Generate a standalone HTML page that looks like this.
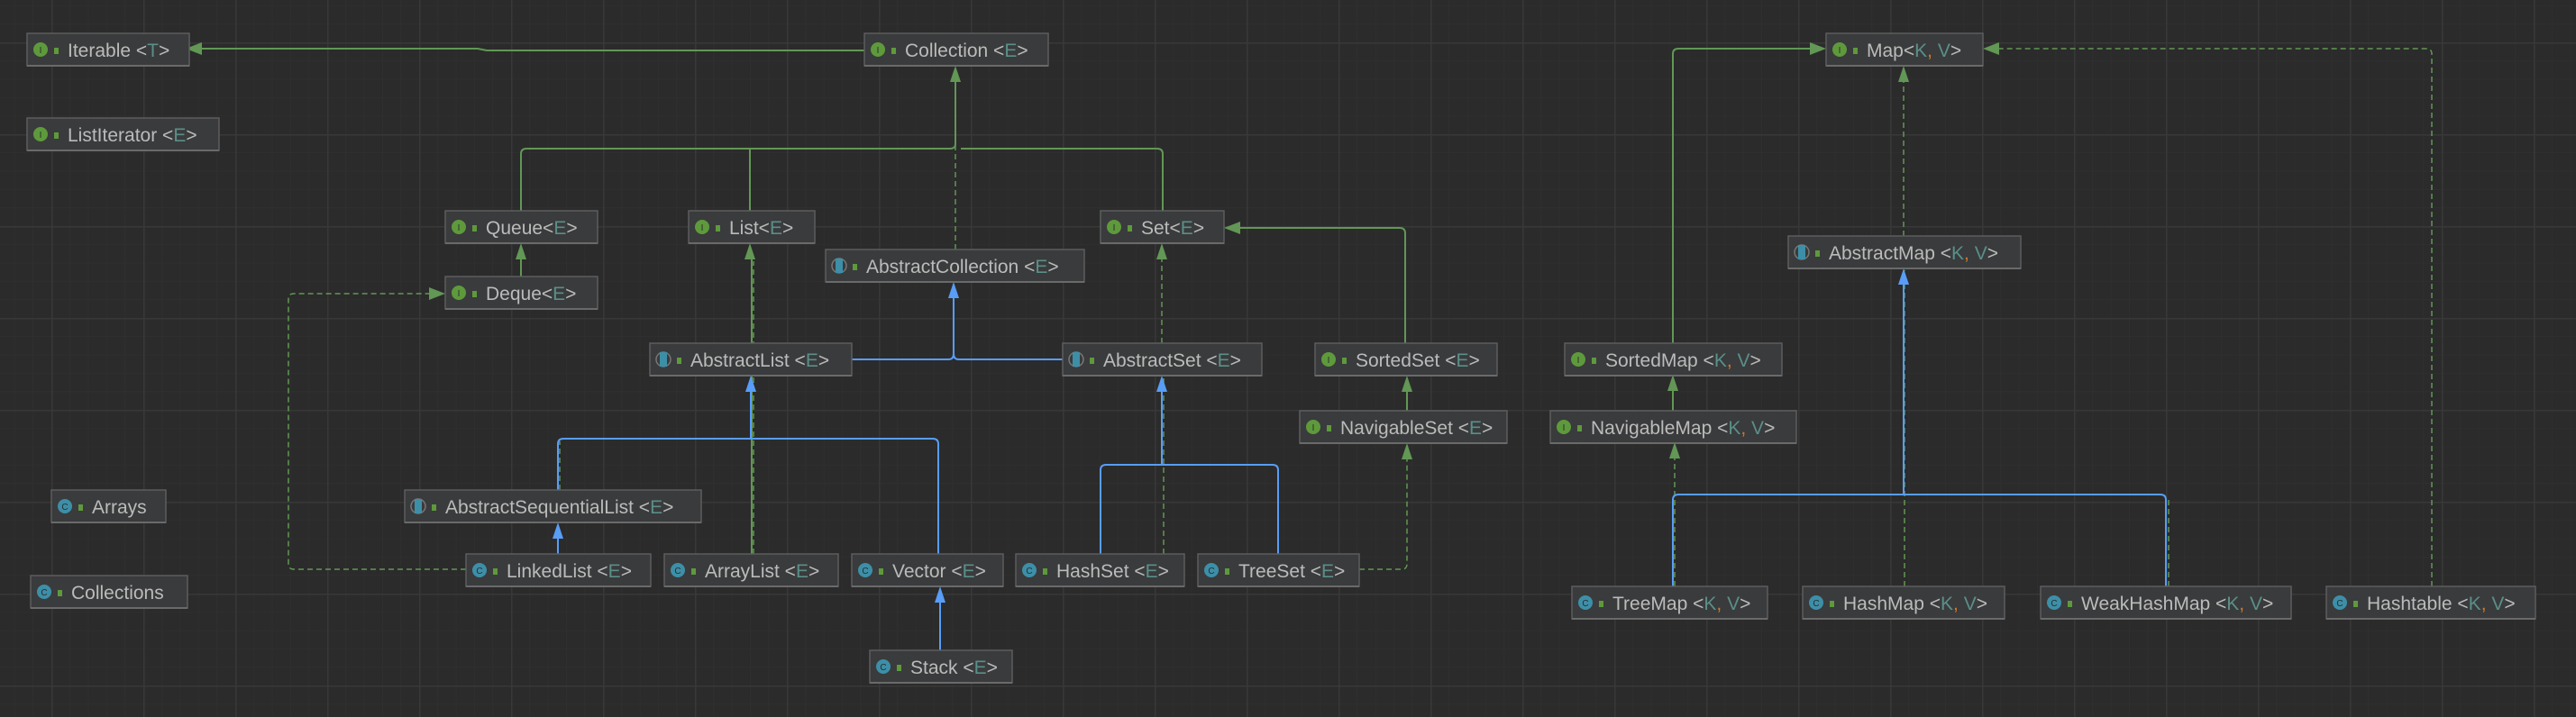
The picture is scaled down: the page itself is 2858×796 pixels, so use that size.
<!DOCTYPE html>
<html><head><meta charset="utf-8"><style>
html,body{margin:0;padding:0;background:#2b2b2b;}
svg{display:block}
text{font-family:"Liberation Sans",sans-serif;font-size:21px;fill:#bbbbbb;}
.b{fill:#3a3b3c;stroke:#5c5d5e;stroke-width:1.5}
.u{stroke:#6a6a6a;stroke-width:2}
.i{fill:#5e9a3c}
.c{fill:#3d8fa8}
.a{fill:none;stroke:#777;stroke-width:1.5}
.ab{fill:#3d8fa8}
text.l{font-size:10px;fill:#2b2b2b;text-anchor:middle}
.k{fill:#5e9a3c}
tspan.p{fill:#5a8f8a}
tspan.o{fill:#cc7832}
</style></head><body>
<svg width="2858" height="796" viewBox="0 0 2858 796" xmlns="http://www.w3.org/2000/svg">
<defs>
<pattern id="minor" x="57" y="47" width="20.4" height="20.4" patternUnits="userSpaceOnUse">
<path d="M0,0 H20.4 M0,0 V20.4" stroke="#313131" stroke-width="1" fill="none"/>
</pattern>
<pattern id="major" x="57" y="47" width="102" height="102" patternUnits="userSpaceOnUse">
<path d="M0,0.5 H102 M0.5,0 V102" stroke="#383838" stroke-width="2" fill="none"/>
</pattern>
</defs>
<rect width="2858" height="796" fill="#2b2b2b"/>
<rect width="2858" height="796" fill="url(#minor)"/>
<rect width="2858" height="796" fill="url(#major)"/>

<g fill="none" stroke="#629755" stroke-width="2">
<path d="M959,56 H540 L530,54 H212"/>
<path d="M578,234 V171 Q578,165 584,165 H1054 Q1060,165 1060,160 V90"/>
<path d="M832,234 V165"/>
<path d="M1290,234 V171 Q1290,165 1284,165 H1066"/>
<path d="M578,307 V286"/>
<path d="M1559,381 V259 Q1559,253 1553,253 H1374"/>
<path d="M1561,456 V433"/>
<path d="M834,615 V286"/>
<path d="M1856,381 V60 Q1856,54 1862,54 H2010"/>
<path d="M1856,456 V432"/>
</g>
<g fill="none" stroke="#629755" stroke-width="1.5" stroke-dasharray="6,4">
<path d="M1060,277 V90"/>
<path d="M1289,381 V286"/>
<path d="M1291,615 V420"/>
<path d="M836,615 V290"/>
<path d="M517,632 H326 Q320,632 320,626 V332 Q320,326 326,326 H478"/>
<path d="M1508,632 H1555 Q1561,632 1561,626 V508"/>
<path d="M2112,262 V90"/>
<path d="M2113,651 V300"/>
<path d="M1858,651 V508"/>
<path d="M2698,651 V60 Q2698,54 2692,54 H2216"/>
<path d="M2406,651 V555"/>
<path d="M621,544 V490"/>
</g>
<g fill="none" stroke="#589df6" stroke-width="2">
<path d="M945,399 H1052 Q1058,399 1058,393 V330"/>
<path d="M1179,399 H1064 Q1058,399 1058,393"/>
<path d="M619,544 V493 Q619,487 625,487 H1035 Q1041,487 1041,493 V615"/>
<path d="M833,487 V434"/>
<path d="M619,615 V597"/>
<path d="M1043,722 V668"/>
<path d="M1221,615 V522 Q1221,516 1227,516 H1412 Q1418,516 1418,522 V615"/>
<path d="M1289,516 V434"/>
<path d="M1856,651 V555 Q1856,549 1862,549 H2397 Q2403,549 2403,555 V651"/>
<path d="M2112,549 V315"/>
</g>
<g fill="#629755">
<polygon points="206,54 224,47 224,61"/>
<polygon points="1060,73 1054,91 1066,91"/>
<polygon points="832,270 826,288 838,288"/>
<polygon points="578,270 572,288 584,288"/>
<polygon points="1358,253 1376,246 1376,260"/>
<polygon points="1561,417 1555,435 1567,435"/>
<polygon points="1561,492 1555,510 1567,510"/>
<polygon points="494,326 476,319 476,333"/>
<polygon points="2026,54 2008,47 2008,61"/>
<polygon points="2200,54 2218,47 2218,61"/>
<polygon points="2112,73 2106,91 2118,91"/>
<polygon points="1856,416 1850,434 1862,434"/>
<polygon points="1858,491 1852,509 1864,509"/>
<polygon points="1289,270 1283,288 1295,288"/>
</g>
<g fill="#589df6">
<polygon points="1058,313 1052,331 1064,331"/>
<polygon points="833,417 827,435 839,435"/>
<polygon points="619,580 613,598 625,598"/>
<polygon points="1043,651 1037,669 1049,669"/>
<polygon points="1289,417 1283,435 1295,435"/>
<polygon points="2112,298 2106,316 2118,316"/>
</g>

<g transform="translate(30,37)"><rect width="180" height="36" class="b"/><line x1="0" y1="36" x2="180" y2="36" class="u"/><circle cx="15" cy="18" r="8" class="i"/><text x="15" y="22" class="l">I</text><rect x="30" y="16" width="5" height="7" class="k"/><text x="45" y="26">Iterable &lt;<tspan class="p">T</tspan>&gt;</text></g>
<g transform="translate(959,37)"><rect width="204" height="36" class="b"/><line x1="0" y1="36" x2="204" y2="36" class="u"/><circle cx="15" cy="18" r="8" class="i"/><text x="15" y="22" class="l">I</text><rect x="30" y="16" width="5" height="7" class="k"/><text x="45" y="26">Collection &lt;<tspan class="p">E</tspan>&gt;</text></g>
<g transform="translate(30,131)"><rect width="213" height="36" class="b"/><line x1="0" y1="36" x2="213" y2="36" class="u"/><circle cx="15" cy="18" r="8" class="i"/><text x="15" y="22" class="l">I</text><rect x="30" y="16" width="5" height="7" class="k"/><text x="45" y="26">ListIterator &lt;<tspan class="p">E</tspan>&gt;</text></g>
<g transform="translate(494,234)"><rect width="169" height="36" class="b"/><line x1="0" y1="36" x2="169" y2="36" class="u"/><circle cx="15" cy="18" r="8" class="i"/><text x="15" y="22" class="l">I</text><rect x="30" y="16" width="5" height="7" class="k"/><text x="45" y="26">Queue&lt;<tspan class="p">E</tspan>&gt;</text></g>
<g transform="translate(764,234)"><rect width="140" height="36" class="b"/><line x1="0" y1="36" x2="140" y2="36" class="u"/><circle cx="15" cy="18" r="8" class="i"/><text x="15" y="22" class="l">I</text><rect x="30" y="16" width="5" height="7" class="k"/><text x="45" y="26">List&lt;<tspan class="p">E</tspan>&gt;</text></g>
<g transform="translate(1221,234)"><rect width="137" height="36" class="b"/><line x1="0" y1="36" x2="137" y2="36" class="u"/><circle cx="15" cy="18" r="8" class="i"/><text x="15" y="22" class="l">I</text><rect x="30" y="16" width="5" height="7" class="k"/><text x="45" y="26">Set&lt;<tspan class="p">E</tspan>&gt;</text></g>
<g transform="translate(494,307)"><rect width="169" height="36" class="b"/><line x1="0" y1="36" x2="169" y2="36" class="u"/><circle cx="15" cy="18" r="8" class="i"/><text x="15" y="22" class="l">I</text><rect x="30" y="16" width="5" height="7" class="k"/><text x="45" y="26">Deque&lt;<tspan class="p">E</tspan>&gt;</text></g>
<g transform="translate(1459,381)"><rect width="202" height="36" class="b"/><line x1="0" y1="36" x2="202" y2="36" class="u"/><circle cx="15" cy="18" r="8" class="i"/><text x="15" y="22" class="l">I</text><rect x="30" y="16" width="5" height="7" class="k"/><text x="45" y="26">SortedSet &lt;<tspan class="p">E</tspan>&gt;</text></g>
<g transform="translate(1442,456)"><rect width="230" height="36" class="b"/><line x1="0" y1="36" x2="230" y2="36" class="u"/><circle cx="15" cy="18" r="8" class="i"/><text x="15" y="22" class="l">I</text><rect x="30" y="16" width="5" height="7" class="k"/><text x="45" y="26">NavigableSet &lt;<tspan class="p">E</tspan>&gt;</text></g>
<g transform="translate(2026,37)"><rect width="174" height="36" class="b"/><line x1="0" y1="36" x2="174" y2="36" class="u"/><circle cx="15" cy="18" r="8" class="i"/><text x="15" y="22" class="l">I</text><rect x="30" y="16" width="5" height="7" class="k"/><text x="45" y="26">Map&lt;<tspan class="p">K</tspan><tspan class="o">,</tspan> <tspan class="p">V</tspan>&gt;</text></g>
<g transform="translate(1736,381)"><rect width="241" height="36" class="b"/><line x1="0" y1="36" x2="241" y2="36" class="u"/><circle cx="15" cy="18" r="8" class="i"/><text x="15" y="22" class="l">I</text><rect x="30" y="16" width="5" height="7" class="k"/><text x="45" y="26">SortedMap &lt;<tspan class="p">K</tspan><tspan class="o">,</tspan> <tspan class="p">V</tspan>&gt;</text></g>
<g transform="translate(1720,456)"><rect width="273" height="36" class="b"/><line x1="0" y1="36" x2="273" y2="36" class="u"/><circle cx="15" cy="18" r="8" class="i"/><text x="15" y="22" class="l">I</text><rect x="30" y="16" width="5" height="7" class="k"/><text x="45" y="26">NavigableMap &lt;<tspan class="p">K</tspan><tspan class="o">,</tspan> <tspan class="p">V</tspan>&gt;</text></g>

<g transform="translate(916,277)"><rect width="287" height="36" class="b"/><line x1="0" y1="36" x2="287" y2="36" class="u"/><circle cx="15" cy="18" r="8" class="a"/><rect x="11" y="10" width="8" height="16" class="ab"/><rect x="30" y="16" width="5" height="7" class="k"/><text x="45" y="26">AbstractCollection  &lt;<tspan class="p">E</tspan>&gt;</text></g>
<g transform="translate(721,381)"><rect width="224" height="36" class="b"/><line x1="0" y1="36" x2="224" y2="36" class="u"/><circle cx="15" cy="18" r="8" class="a"/><rect x="11" y="10" width="8" height="16" class="ab"/><rect x="30" y="16" width="5" height="7" class="k"/><text x="45" y="26">AbstractList &lt;<tspan class="p">E</tspan>&gt;</text></g>
<g transform="translate(1179,381)"><rect width="221" height="36" class="b"/><line x1="0" y1="36" x2="221" y2="36" class="u"/><circle cx="15" cy="18" r="8" class="a"/><rect x="11" y="10" width="8" height="16" class="ab"/><rect x="30" y="16" width="5" height="7" class="k"/><text x="45" y="26">AbstractSet &lt;<tspan class="p">E</tspan>&gt;</text></g>
<g transform="translate(449,544)"><rect width="329" height="36" class="b"/><line x1="0" y1="36" x2="329" y2="36" class="u"/><circle cx="15" cy="18" r="8" class="a"/><rect x="11" y="10" width="8" height="16" class="ab"/><rect x="30" y="16" width="5" height="7" class="k"/><text x="45" y="26">AbstractSequentialList  &lt;<tspan class="p">E</tspan>&gt;</text></g>
<g transform="translate(1984,262)"><rect width="258" height="36" class="b"/><line x1="0" y1="36" x2="258" y2="36" class="u"/><circle cx="15" cy="18" r="8" class="a"/><rect x="11" y="10" width="8" height="16" class="ab"/><rect x="30" y="16" width="5" height="7" class="k"/><text x="45" y="26">AbstractMap &lt;<tspan class="p">K</tspan><tspan class="o">,</tspan> <tspan class="p">V</tspan>&gt;</text></g>

<g transform="translate(57,544)"><rect width="127" height="36" class="b"/><line x1="0" y1="36" x2="127" y2="36" class="u"/><circle cx="15" cy="18" r="8" class="c"/><text x="15" y="22" class="l">C</text><rect x="30" y="16" width="5" height="7" class="k"/><text x="45" y="26">Arrays</text></g>
<g transform="translate(34,639)"><rect width="174" height="36" class="b"/><line x1="0" y1="36" x2="174" y2="36" class="u"/><circle cx="15" cy="18" r="8" class="c"/><text x="15" y="22" class="l">C</text><rect x="30" y="16" width="5" height="7" class="k"/><text x="45" y="26">Collections</text></g>
<g transform="translate(517,615)"><rect width="205" height="36" class="b"/><line x1="0" y1="36" x2="205" y2="36" class="u"/><circle cx="15" cy="18" r="8" class="c"/><text x="15" y="22" class="l">C</text><rect x="30" y="16" width="5" height="7" class="k"/><text x="45" y="26">LinkedList &lt;<tspan class="p">E</tspan>&gt;</text></g>
<g transform="translate(737,615)"><rect width="193" height="36" class="b"/><line x1="0" y1="36" x2="193" y2="36" class="u"/><circle cx="15" cy="18" r="8" class="c"/><text x="15" y="22" class="l">C</text><rect x="30" y="16" width="5" height="7" class="k"/><text x="45" y="26">ArrayList &lt;<tspan class="p">E</tspan>&gt;</text></g>
<g transform="translate(945,615)"><rect width="168" height="36" class="b"/><line x1="0" y1="36" x2="168" y2="36" class="u"/><circle cx="15" cy="18" r="8" class="c"/><text x="15" y="22" class="l">C</text><rect x="30" y="16" width="5" height="7" class="k"/><text x="45" y="26">Vector &lt;<tspan class="p">E</tspan>&gt;</text></g>
<g transform="translate(1127,615)"><rect width="187" height="36" class="b"/><line x1="0" y1="36" x2="187" y2="36" class="u"/><circle cx="15" cy="18" r="8" class="c"/><text x="15" y="22" class="l">C</text><rect x="30" y="16" width="5" height="7" class="k"/><text x="45" y="26">HashSet &lt;<tspan class="p">E</tspan>&gt;</text></g>
<g transform="translate(1329,615)"><rect width="179" height="36" class="b"/><line x1="0" y1="36" x2="179" y2="36" class="u"/><circle cx="15" cy="18" r="8" class="c"/><text x="15" y="22" class="l">C</text><rect x="30" y="16" width="5" height="7" class="k"/><text x="45" y="26">TreeSet &lt;<tspan class="p">E</tspan>&gt;</text></g>
<g transform="translate(965,722)"><rect width="158" height="36" class="b"/><line x1="0" y1="36" x2="158" y2="36" class="u"/><circle cx="15" cy="18" r="8" class="c"/><text x="15" y="22" class="l">C</text><rect x="30" y="16" width="5" height="7" class="k"/><text x="45" y="26">Stack &lt;<tspan class="p">E</tspan>&gt;</text></g>
<g transform="translate(1744,651)"><rect width="217" height="36" class="b"/><line x1="0" y1="36" x2="217" y2="36" class="u"/><circle cx="15" cy="18" r="8" class="c"/><text x="15" y="22" class="l">C</text><rect x="30" y="16" width="5" height="7" class="k"/><text x="45" y="26">TreeMap &lt;<tspan class="p">K</tspan><tspan class="o">,</tspan> <tspan class="p">V</tspan>&gt;</text></g>
<g transform="translate(2000,651)"><rect width="224" height="36" class="b"/><line x1="0" y1="36" x2="224" y2="36" class="u"/><circle cx="15" cy="18" r="8" class="c"/><text x="15" y="22" class="l">C</text><rect x="30" y="16" width="5" height="7" class="k"/><text x="45" y="26">HashMap &lt;<tspan class="p">K</tspan><tspan class="o">,</tspan> <tspan class="p">V</tspan>&gt;</text></g>
<g transform="translate(2264,651)"><rect width="278" height="36" class="b"/><line x1="0" y1="36" x2="278" y2="36" class="u"/><circle cx="15" cy="18" r="8" class="c"/><text x="15" y="22" class="l">C</text><rect x="30" y="16" width="5" height="7" class="k"/><text x="45" y="26">WeakHashMap &lt;<tspan class="p">K</tspan><tspan class="o">,</tspan> <tspan class="p">V</tspan>&gt;</text></g>
<g transform="translate(2581,651)"><rect width="232" height="36" class="b"/><line x1="0" y1="36" x2="232" y2="36" class="u"/><circle cx="15" cy="18" r="8" class="c"/><text x="15" y="22" class="l">C</text><rect x="30" y="16" width="5" height="7" class="k"/><text x="45" y="26">Hashtable &lt;<tspan class="p">K</tspan><tspan class="o">,</tspan> <tspan class="p">V</tspan>&gt;</text></g>
</svg>
</body></html>
